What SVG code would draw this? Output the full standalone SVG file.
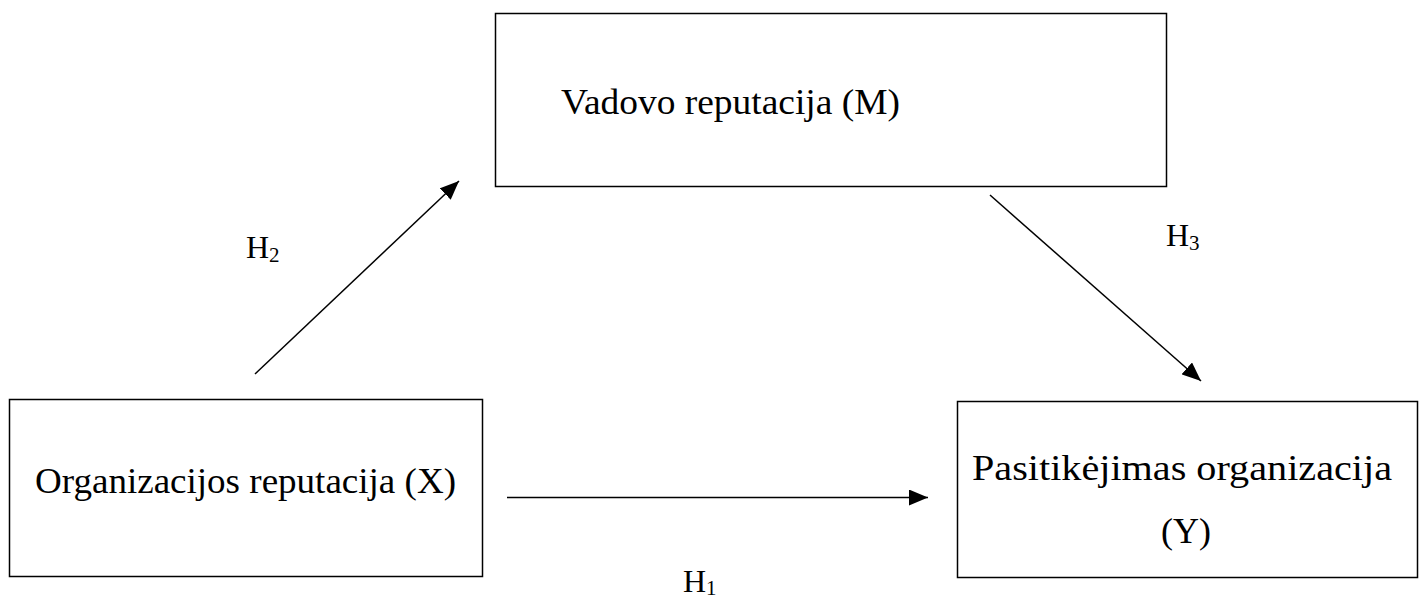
<svg xmlns="http://www.w3.org/2000/svg" width="1419" height="599" viewBox="0 0 1419 599">
<style>
.box{fill:#fff;stroke:#000;stroke-width:1.5}
.lbl{font-family:"Liberation Serif","Times New Roman",serif;font-size:36px;fill:#000}
.h{font-family:"Liberation Serif","Times New Roman",serif;font-size:32px;fill:#000}
.sub{font-size:21px}
.con{stroke:#000;stroke-width:1.5;fill:none;marker-end:url(#ah)}
</style>
<defs>
<marker id="ah" markerUnits="userSpaceOnUse" markerWidth="20" markerHeight="16" refX="19" refY="8" orient="auto">
<path d="M0,0 L19,8 L0,16 Z" fill="#000"/>
</marker>
</defs>
<rect width="1419" height="599" fill="#fff"/>
<g id="node-m">
<rect class="box" x="495.5" y="13.5" width="671" height="173"/>
<text class="lbl" x="561" y="114" textLength="339" lengthAdjust="spacingAndGlyphs">Vadovo reputacija (M)</text>
</g>
<g id="node-x">
<rect class="box" x="9.5" y="399.5" width="473" height="177"/>
<text class="lbl" x="35" y="493" textLength="421" lengthAdjust="spacingAndGlyphs">Organizacijos reputacija (X)</text>
</g>
<g id="node-y">
<rect class="box" x="957.5" y="401.5" width="460" height="176"/>
<text class="lbl" x="972" y="480" textLength="420" lengthAdjust="spacingAndGlyphs">Pasitikėjimas organizacija</text>
<text class="lbl" x="1186" y="543" text-anchor="middle">(Y)</text>
</g>
<g id="connectors">
<line class="con" x1="255" y1="374" x2="459" y2="181"/>
<line class="con" x1="990" y1="195" x2="1201" y2="381"/>
<line class="con" x1="507" y1="497.5" x2="928" y2="497.5"/>
</g>
<g id="labels">
<text class="h" x="246" y="258">H<tspan class="sub" dy="4">2</tspan></text>
<text class="h" x="1166" y="246">H<tspan class="sub" dy="4">3</tspan></text>
<text class="h" x="683" y="592">H<tspan class="sub" dy="3">1</tspan></text>
</g>
</svg>
